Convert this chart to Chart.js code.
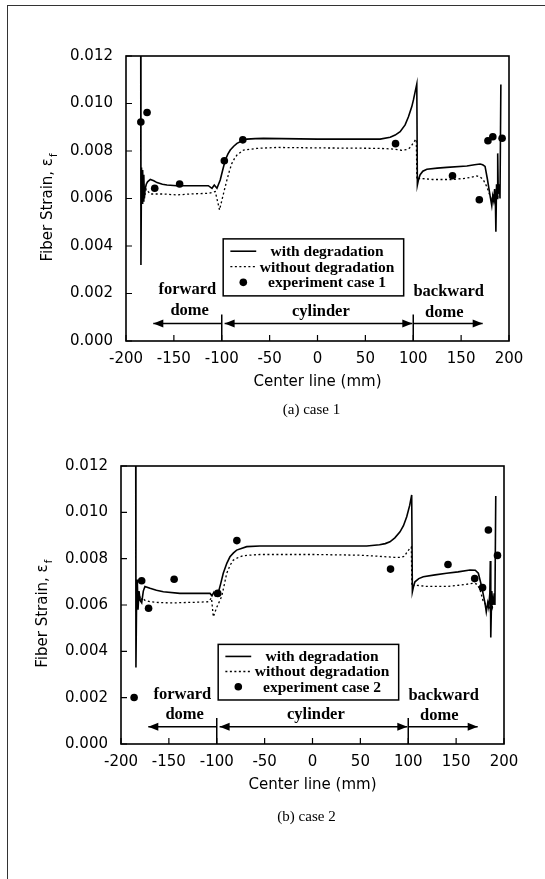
<!DOCTYPE html>
<html>
<head>
<meta charset="utf-8">
<script src="https://cdn.jsdelivr.net/npm/chart.js@4.4.1/dist/chart.umd.min.js"></script>
<style>
  html, body { margin: 0; padding: 0; background: #fff; }
  body { width: 545px; height: 879px; position: relative; overflow: hidden; }
  #frame { position: absolute; left: 7px; top: 5px; right: -2px; bottom: -2px; border-top: 1px solid #333; border-left: 1px solid #333; }
  .box { position: absolute; left: 0; width: 545px; }
  #box1 { top: 0; height: 430px; }
  #box2 { top: 430px; height: 449px; }
</style>
</head>
<body>
<div id="frame"></div>
<div class="box" id="box1"><canvas id="chart1"></canvas></div>
<div class="box" id="box2"><canvas id="chart2"></canvas></div>
<script>
// Graduations des axes
const xTicks = [-200, -150, -100, -50, 0, 50, 100, 150, 200]
const yTicks = [0, 0.002, 0.004, 0.006, 0.008, 0.010, 0.012]

// Series, [position (mm), deformation]
// (a) case 1
const withDeg1 = [
  [-184.6, 0.0120], [-184.4, 0.0032], [-183.8, 0.0073], [-183.2, 0.0058], [-182.6, 0.0072],
  [-182.0, 0.0059], [-181.4, 0.0070], [-180.8, 0.0060], [-180.0, 0.0064], [-178.8, 0.0066],
  [-177.5, 0.0067], [-174.6, 0.0068], [-171, 0.00675], [-167.6, 0.00667], [-162, 0.0066],
  [-157.2, 0.00657], [-147, 0.00654], [-130, 0.00654], [-114, 0.00654], [-110.2, 0.00643],
  [-107.8, 0.00657], [-105, 0.00643], [-101.6, 0.00678], [-99, 0.0072], [-96.3, 0.00762],
  [-93.5, 0.00788], [-91.1, 0.00804], [-87.5, 0.0082], [-84.1, 0.00832], [-79, 0.00842],
  [-73.7, 0.0085], [-65, 0.00852], [-56.4, 0.00853], [0, 0.0085], [50, 0.0085],
  [65.4, 0.0085], [75.9, 0.00858], [81.1, 0.00867], [86.3, 0.00881], [91.5, 0.0091],
  [95, 0.00944], [98.5, 0.00987], [100.2, 0.01015], [102, 0.0105], [103.7, 0.01082],
  [104.3, 0.00657], [105.5, 0.0068], [107.2, 0.0070], [110, 0.00715], [114.2, 0.00723],
  [125, 0.00728], [135, 0.00731], [156, 0.00737], [164, 0.00742], [169.8, 0.00745],
  [172.5, 0.00742], [175, 0.00735], [177.5, 0.0068], [180.3, 0.0061], [182, 0.0057],
  [183, 0.0061], [184, 0.0059], [185, 0.0064], [185.8, 0.0059], [186.3, 0.0046],
  [187, 0.0066], [187.6, 0.006], [188.2, 0.0079], [188.8, 0.0062], [190, 0.0066],
  [190.6, 0.006], [191.5, 0.0108]
]
const withoutDeg1 = [
  [-184, 0.0057], [-183.2, 0.0065], [-182.4, 0.0059], [-181.5, 0.0066], [-180.5, 0.0061],
  [-179, 0.0064], [-177, 0.0063], [-174.6, 0.00619], [-160.8, 0.00619], [-146.8, 0.00615],
  [-132.9, 0.00619], [-113.8, 0.00622], [-106.8, 0.00629], [-104.3, 0.00587], [-102.3, 0.00552],
  [-99.8, 0.00594], [-97, 0.0064], [-94.6, 0.00678], [-92, 0.00716], [-89.4, 0.00748],
  [-86.5, 0.0077], [-84.1, 0.00783], [-77.2, 0.00804], [-63.3, 0.00811], [-42.4, 0.00815],
  [0, 0.00813], [40, 0.00812], [65.4, 0.00811], [80, 0.00808], [88, 0.00803],
  [93, 0.00806], [96, 0.00812], [98.5, 0.00825], [102, 0.00846], [103.2, 0.0085],
  [103.8, 0.0068], [107.2, 0.00685], [120, 0.0068], [140, 0.0068], [155, 0.00685],
  [166.4, 0.00695], [170, 0.0069], [173, 0.0068], [176.8, 0.0065], [180.3, 0.0061],
  [182, 0.0059], [183.5, 0.0062], [185, 0.0059], [186.5, 0.0063], [188, 0.0060], [189.5, 0.0064]
]
const exp1 = [
  [-184.5, 0.00922], [-178, 0.00962], [-170, 0.00643], [-144, 0.00661], [-97.3, 0.00759],
  [-78, 0.00847], [81.5, 0.00831], [141, 0.00696], [169, 0.00595], [178, 0.00843],
  [183.1, 0.0086], [192.8, 0.00854]
]

// (b) case 2
const withDeg2 = [
  [-184.6, 0.0120], [-184.4, 0.0033], [-183.8, 0.0059], [-183, 0.0071], [-182.2, 0.0058],
  [-181.2, 0.0066], [-180, 0.0062], [-178.4, 0.0061], [-176.7, 0.0066], [-175, 0.0068],
  [-172, 0.00676], [-169.7, 0.00672], [-163, 0.00664], [-155.8, 0.00657], [-138.5, 0.0065],
  [-120, 0.0065], [-107, 0.0065], [-105, 0.0064], [-103, 0.00655], [-101.5, 0.0064],
  [-98.4, 0.00653], [-96, 0.0069], [-93.2, 0.00737], [-89.5, 0.0078], [-86.2, 0.00808],
  [-82.5, 0.00825], [-79.2, 0.00837], [-68.7, 0.00852], [-55, 0.00855], [0, 0.00855],
  [56.6, 0.00855], [70, 0.0086], [76, 0.00865], [80.9, 0.00873], [86, 0.0089],
  [91.4, 0.00916], [95, 0.00942], [98.4, 0.00981], [101.5, 0.0103], [103.6, 0.01075],
  [104.3, 0.00657], [105.5, 0.0068], [107, 0.0070], [111, 0.00714], [115.7, 0.00722],
  [128, 0.0073], [140, 0.00737], [152, 0.00743], [164.5, 0.00751], [170, 0.0075],
  [173.2, 0.00737], [176.7, 0.00679], [180.2, 0.00607], [181.5, 0.0057], [183, 0.0061],
  [184, 0.0059], [185.2, 0.0065], [185.7, 0.0079], [186.2, 0.0046], [187.2, 0.0066],
  [188.5, 0.006], [189.8, 0.0065], [190.5, 0.006], [191.4, 0.0107]
]
const withoutDeg2 = [
  [-184, 0.0057], [-183.2, 0.0064], [-182.4, 0.0059], [-181.2, 0.0066], [-179.8, 0.0062],
  [-177.5, 0.0063], [-175, 0.0062], [-169.7, 0.00614], [-158, 0.0061], [-146, 0.00609],
  [-130, 0.00611], [-120, 0.00612], [-108.8, 0.00614], [-105.5, 0.0063], [-103.6, 0.00549],
  [-100, 0.0059], [-94.9, 0.00636], [-92, 0.0069], [-89.6, 0.00737], [-86, 0.00772],
  [-82.7, 0.00794], [-77, 0.00806], [-72.3, 0.00813], [-55, 0.00818], [0, 0.00818],
  [50, 0.00815], [74, 0.00809], [85, 0.00806], [92, 0.00806], [96, 0.0081],
  [99, 0.0083], [101.8, 0.00845], [103.2, 0.0085], [103.8, 0.0068], [107, 0.00686],
  [120, 0.0068], [140, 0.0068], [155, 0.00686], [168, 0.00694], [172, 0.0069],
  [175, 0.00665], [178, 0.0062], [180.2, 0.00607], [182, 0.0059], [183.5, 0.0061],
  [185, 0.0058], [186.5, 0.0062], [188, 0.0059], [189.5, 0.0063]
]
const exp2 = [
  [-186.3, 0.00201], [-178.4, 0.00705], [-171.2, 0.00586], [-144.5, 0.00711], [-99, 0.0065],
  [-79, 0.00878], [81.5, 0.00755], [141.5, 0.00775], [169.4, 0.00714], [177.6, 0.00675],
  [183.7, 0.00924], [193.2, 0.00814]
]

// Textes
const seriesLabels = ["with degradation", "without degradation"]
const zoneLabels = ["forward", "dome", "cylinder", "backward", "dome"]

Chart.defaults.font.family = '"DejaVu Sans", sans-serif'
Chart.defaults.font.size = 15
Chart.defaults.color = "#000"

const serif = '"Liberation Serif", "Times New Roman", serif'

// Dessine une fleche horizontale (en pixels)
function arrow(ctx, x1, x2, y, headStart, headEnd) {
  ctx.beginPath()
  ctx.moveTo(x1, y)
  ctx.lineTo(x2, y)
  ctx.stroke()
  const head = (xt, dir) => {
    ctx.beginPath()
    ctx.moveTo(xt, y)
    ctx.lineTo(xt - dir * 10, y - 4)
    ctx.lineTo(xt - dir * 10, y + 4)
    ctx.closePath()
    ctx.fill()
  }
  if (headStart) head(x1, x1 < x2 ? -1 : 1)
  if (headEnd) head(x2, x2 > x1 ? 1 : -1)
}

// Plugin pour le cadre, les graduations internes, les zones, la legende et les titres
const decor = {
  id: "decor",
  afterDatasetsDraw(chart, args, opts) {
    const ctx = chart.ctx
    const a = chart.chartArea
    const px = v => chart.scales.x.getPixelForValue(v)
    const py = v => chart.scales.y.getPixelForValue(v)
    ctx.save()
    ctx.strokeStyle = "#000"
    ctx.fillStyle = "#000"

    // cadre
    ctx.lineWidth = 1.6
    ctx.strokeRect(a.left, a.top, a.right - a.left, a.bottom - a.top)

    // graduations vers l'interieur
    ctx.lineWidth = 1.2
    ctx.beginPath()
    xTicks.forEach(v => { ctx.moveTo(px(v), a.bottom); ctx.lineTo(px(v), a.bottom - 6) })
    yTicks.forEach(v => { ctx.moveTo(a.left, py(v)); ctx.lineTo(a.left + 6, py(v)) })
    ctx.stroke()

    // limites des zones et fleches
    ctx.lineWidth = 1.5
    ctx.beginPath()
    ;[-100, 100].forEach(v => { ctx.moveTo(px(v), py(0)); ctx.lineTo(px(v), py(0.00112)) })
    ctx.stroke()
    const ya = py(0.00074)
    arrow(ctx, px(-100), px(-171.5), ya, false, true)
    arrow(ctx, px(-97), px(99), ya, true, true)
    arrow(ctx, px(100), px(172.5), ya, false, true)

    // noms des zones
    ctx.font = "bold 16.5px " + serif
    ctx.textAlign = "center"
    ctx.textBaseline = "middle"
    const zonePos = [[-136, 0.00214], [-133.5, 0.00126], [3.5, 0.00125], [137, 0.00209], [132.5, 0.0012]]
    zoneLabels.forEach((t, i) => ctx.fillText(t, px(zonePos[i][0]), py(zonePos[i][1])))

    // legende
    const lx1 = px(-98.5), lx2 = px(90), ly1 = py(0.0043), ly2 = py(0.0019)
    ctx.fillStyle = "#fff"
    ctx.fillRect(lx1, ly1, lx2 - lx1, ly2 - ly1)
    ctx.fillStyle = "#000"
    ctx.lineWidth = 1.5
    ctx.strokeRect(lx1, ly1, lx2 - lx1, ly2 - ly1)
    const rows = [0.00378, 0.00313, 0.00247].map(py)
    const ds = chart.data.datasets
    ;[0, 1].forEach(i => {
      ctx.lineWidth = ds[i].borderWidth
      ctx.setLineDash(ds[i].borderDash || [])
      ctx.beginPath()
      ctx.moveTo(px(-91), rows[i])
      ctx.lineTo(px(-64), rows[i])
      ctx.stroke()
    })
    ctx.setLineDash([])
    ctx.beginPath()
    ctx.arc(px(-77.5), rows[2], ds[2].pointRadius, 0, Math.PI * 2)
    ctx.fill()
    ctx.font = "bold 15.5px " + serif
    ds.forEach((d, i) => ctx.fillText(d.label, px(10), rows[i] + 1))

    // titre de l'axe x et legende de la figure
    ctx.font = '15px "DejaVu Sans"'
    const cx = (a.left + a.right) / 2
    ctx.fillText("Center line (mm)", cx, a.bottom + 41)
    ctx.font = "15px " + serif
    ctx.fillText(opts.caption, cx - 6, a.bottom + opts.captionGap)

    // titre de l'axe y avec indice
    ctx.save()
    ctx.translate(a.left - 78, py(0.0056))
    ctx.rotate(-Math.PI / 2)
    ctx.font = '15px "DejaVu Sans"'
    const main = "Fiber Strain, \u03b5"
    const w = ctx.measureText(main).width
    ctx.font = '10px "DejaVu Sans"'
    const ws = ctx.measureText("f").width
    ctx.textAlign = "left"
    ctx.font = '15px "DejaVu Sans"'
    ctx.fillText(main, -(w + ws) / 2, 0)
    ctx.font = '10px "DejaVu Sans"'
    ctx.fillText("f", -(w + ws) / 2 + w + 1, 6)
    ctx.restore()

    ctx.restore()
  }
}

const toXY = arr => arr.map(p => ({ x: p[0], y: p[1] }))

function createChart(id, withDeg, withoutDeg, exp, expLabel, caption, box) {
  new Chart(document.getElementById(id), {
    type: "scatter",
    data: {
      datasets: [{
        label: seriesLabels[0],
        data: toXY(withDeg),
        showLine: true,
        borderColor: "#000",
        borderWidth: 1.6,
        pointRadius: 0,
        tension: 0
      }, {
        label: seriesLabels[1],
        data: toXY(withoutDeg),
        showLine: true,
        borderColor: "#000",
        borderWidth: 1.3,
        borderDash: [2, 2.5],
        pointRadius: 0,
        tension: 0
      }, {
        label: expLabel,
        data: toXY(exp),
        showLine: false,
        pointRadius: 3.8,
        backgroundColor: "#000",
        borderColor: "#000",
        borderWidth: 0
      }]
    },
    options: {
      responsive: true,
      maintainAspectRatio: false,
      animation: false,
      layout: { padding: { left: 0, top: box.top, right: box.right, bottom: 0 } },
      scales: {
        x: {
          type: "linear",
          min: -200,
          max: 200,
          afterBuildTicks: s => { s.ticks = xTicks.map(v => ({ value: v })) },
          afterFit: s => { s.height = box.xHeight },
          grid: { display: false },
          border: { display: false },
          ticks: { padding: 1, maxRotation: 0, autoSkip: false, callback: v => String(v) }
        },
        y: {
          type: "linear",
          min: 0,
          max: 0.012,
          afterBuildTicks: s => { s.ticks = yTicks.map(v => ({ value: v })) },
          afterFit: s => { s.width = box.yWidth },
          grid: { display: false },
          border: { display: false },
          ticks: { padding: 5, autoSkip: false, callback: v => v.toFixed(3) }
        }
      },
      plugins: {
        legend: { display: false },
        tooltip: { enabled: false },
        decor: { caption: caption, captionGap: box.captionGap }
      }
    },
    plugins: [decor]
  })
}

createChart("chart1", withDeg1, withoutDeg1, exp1, "experiment case 1", "(a) case 1",
  { top: 56, right: 36, xHeight: 89, yWidth: 126, captionGap: 69 })
createChart("chart2", withDeg2, withoutDeg2, exp2, "experiment case 2", "(b) case 2",
  { top: 36, right: 41, xHeight: 135, yWidth: 121, captionGap: 73 })
</script>
</body>
</html>
